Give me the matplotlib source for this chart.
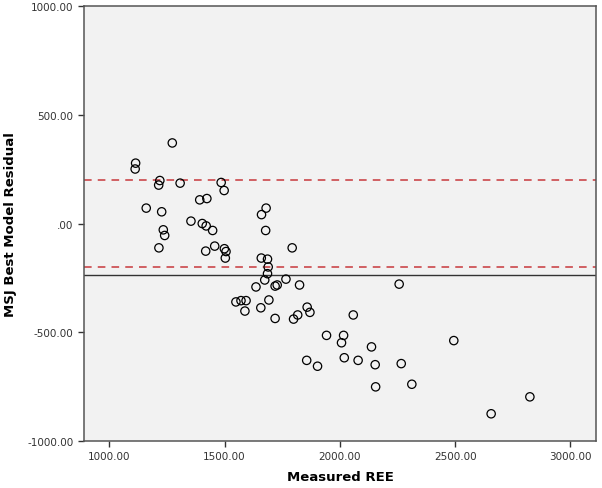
import matplotlib
matplotlib.use("Agg")
import matplotlib.pyplot as plt

# Measured REE vs residual of the MSJ best model
measured_ree = [1273, 1114, 1112, 1219, 1214, 1307, 1485, 1498, 1392, 1423,
                1160, 1227, 1354, 1403, 1420, 1448, 1234, 1240, 1215, 1418,
                1457, 1499, 1506, 1503, 1660, 1680, 1678, 1793, 1659, 1686,
                1689, 1686, 1674, 1636, 1719, 1728, 1766, 1825, 1549, 1571,
                1593, 1588, 1657, 1692, 1719, 1799, 1817, 1858, 1870, 2058,
                2257, 1942, 2016, 2007, 2137, 1856, 1903, 2019, 2079, 2153,
                2266, 2155, 2312, 2494, 2824, 2656]
residual = [371, 278, 251, 198, 177, 186, 189, 152, 109, 115,
            71, 54, 11, 0, -11, -32, -29, -55, -112, -127,
            -104, -116, -129, -159, 41, 71, -32, -112, -159, -164,
            -200, -231, -260, -292, -288, -283, -256, -283, -361, -355,
            -355, -403, -388, -352, -437, -440, -421, -385, -409, -421,
            -279, -515, -515, -549, -568, -630, -657, -618, -630, -650,
            -645, -752, -740, -539, -798, -876]

upper_limit = 201
lower_limit = -199
mean_line = -238

x_ticks = [1000, 1500, 2000, 2500, 3000]
y_ticks = [-1000, -500, 0, 500, 1000]
y_tick_labels = ["-1000.00", "-500.00", ".00", "500.00", "1000.00"]

fig = plt.figure(figsize=(6.02, 4.89), dpi=100)
ax = fig.add_axes([0.1395, 0.0967, 0.851, 0.8883])
ax.set_facecolor("#f2f2f2")

ax.axhline(upper_limit, color="#c8383c", linestyle=(0, (5, 4)), linewidth=1.1, zorder=1)
ax.axhline(lower_limit, color="#c8383c", linestyle=(0, (5, 4)), linewidth=1.1, zorder=1)
ax.axhline(mean_line, color="#333333", linewidth=1.0, zorder=1)

ax.scatter(measured_ree, residual, s=36, facecolors="none", edgecolors="black",
           linewidths=0.9, zorder=2)

ax.set_xlim(890, 3112)
ax.set_ylim(-1000, 1000)
ax.set_xticks(x_ticks)
ax.set_xticklabels([f"{v:.2f}" for v in x_ticks])
ax.set_yticks(y_ticks)
ax.set_yticklabels(y_tick_labels)

ax.tick_params(direction="out", length=4, width=1, colors="#333333",
               labelsize=7.5, labelcolor="#333333")
for s in ax.spines.values():
    s.set_color("#555555")
    s.set_linewidth(1.1)

ax.set_xlabel("Measured REE", fontsize=9.5, fontweight="bold")
ax.xaxis.set_label_coords(0.5, -0.068)
ax.set_ylabel("MSJ Best Model Residual", fontsize=9.5, fontweight="bold")
ax.yaxis.set_label_coords(-0.131, 0.5)

fig.savefig("out.png", dpi=100)
